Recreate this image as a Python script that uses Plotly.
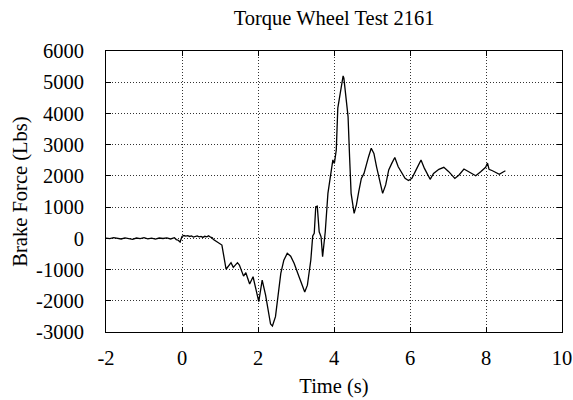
import plotly.graph_objects as go

time_s = [
    -2.0, -1.9, -1.8, -1.7, -1.6, -1.5, -1.4, -1.3, -1.2, -1.1, -1.0, -0.9, -0.8, -0.7,
    -0.6, -0.5, -0.4, -0.3, -0.2, -0.15, -0.1, -0.05, 0.0, 0.03, 0.05, 0.1, 0.15, 0.2,
    0.25, 0.3, 0.35, 0.4, 0.45, 0.5, 0.55, 0.6, 0.65, 0.7, 0.75, 0.8,
    0.82, 0.96, 1.05, 1.16, 1.22, 1.29, 1.35, 1.46, 1.51, 1.62, 1.68, 1.78, 1.87,
    2.02, 2.11, 2.2, 2.33, 2.38, 2.46, 2.54, 2.6, 2.68, 2.77, 2.86, 2.95, 3.08, 3.17,
    3.23, 3.3, 3.39, 3.44, 3.48, 3.52, 3.56, 3.61, 3.66, 3.7, 3.75, 3.77, 3.84, 3.88,
    3.92, 3.97, 4.01, 4.06, 4.1, 4.16, 4.22, 4.24, 4.26, 4.29, 4.37, 4.41, 4.45, 4.53,
    4.59, 4.65, 4.72, 4.79, 4.85, 4.91, 4.98, 5.05, 5.12, 5.21, 5.28, 5.36, 5.44, 5.52,
    5.6, 5.69, 5.78, 5.87, 5.96, 6.05, 6.18, 6.29, 6.38, 6.49, 6.53, 6.62, 6.76, 6.89,
    7.02, 7.18, 7.29, 7.42, 7.55, 7.73, 7.86, 7.99, 8.04, 8.08, 8.17, 8.28, 8.35, 8.44,
    8.51,
]
brake_force = [
    10, -10, 20, 0, -20, 15, 0, -30, 10, -10, 20, -15, 5, -25,
    10, -5, 15, -20, 20, -40, -60, -120, 60, 80, 90, 70, 85, 60,
    75, 40, 55, 80, 45, 60, 30, 65, 50, 80, 35, 20,
    -30, -140, -215, -990, -890, -780, -930, -780, -855, -1210, -1100, -1465, -1230,
    -2030, -1340, -1820, -2745, -2810, -2510, -1660, -1120, -700, -480, -570, -800, -1230, -1550,
    -1720, -1500, -695, 75, 160, 1010, 1030, 210, 50, -590, -110, 210, 1440, 1760,
    2030, 2510, 2400, 2830, 4170, 4650, 5070, 5200, 5130, 4750, 3900, 2615, 1440, 800,
    1070, 1490, 1920, 2080, 2400, 2615, 2885, 2720, 2290, 1760, 1440, 1710, 2190, 2400,
    2590, 2290, 2080, 1920, 1850, 1920, 2240, 2510, 2240, 1975, 1890, 2080, 2210, 2275,
    2135, 1920, 2030, 2220, 2135, 2005, 2135, 2275, 2410, 2210, 2165, 2085, 2050, 2115,
    2165,
]

x_ticks = [-2, 0, 2, 4, 6, 8, 10]
x_tick_text = ["-2", "0", "2", "4", "6", "8", "10"]
y_ticks = [-3000, -2000, -1000, 0, 1000, 2000, 3000, 4000, 5000, 6000]
y_tick_text = ["-3000", "-2000", "-1000", "0", "1000", "2000", "3000", "4000", "5000", "6000"]

font_family = "Liberation Serif, Times New Roman, serif"
FS = 20.5

fig = go.Figure()
fig.add_trace(go.Scatter(
    x=time_s, y=brake_force, mode="lines",
    line=dict(color="black", width=1.3), showlegend=False,
))

axis_common = dict(
    showline=True, linecolor="black", linewidth=1, mirror="ticks",
    ticks="inside", ticklen=5, tickcolor="black",
    showgrid=True, gridcolor="#333333", gridwidth=1, griddash="1px,2px",
    zeroline=False, automargin=False,
    tickfont=dict(family=font_family, size=FS, color="black"),
)

fig.update_layout(
    width=573, height=400,
    margin=dict(l=106, r=11, t=51, b=68),
    paper_bgcolor="white", plot_bgcolor="white",
    font=dict(family=font_family, size=FS, color="black"),
    title=dict(text="Torque Wheel Test 2161", x=0.583, xanchor="center",
               y=1 - 18 / 400, yanchor="middle", yref="container",
               font=dict(family=font_family, size=FS, color="black")),
    xaxis=dict(range=[-2, 10], tickvals=x_ticks, ticktext=x_tick_text,
               ticklabelstandoff=7,
               title=dict(text="Time (s)", standoff=11,
                          font=dict(family=font_family, size=FS)),
               **axis_common),
    yaxis=dict(range=[-3000, 6000], tickvals=y_ticks, ticktext=y_tick_text,
               ticklabelstandoff=17,
               title=dict(text="Brake Force (Lbs)", standoff=2,
                          font=dict(family=font_family, size=FS)),
               **axis_common),
)

fig.write_html("out.html")
